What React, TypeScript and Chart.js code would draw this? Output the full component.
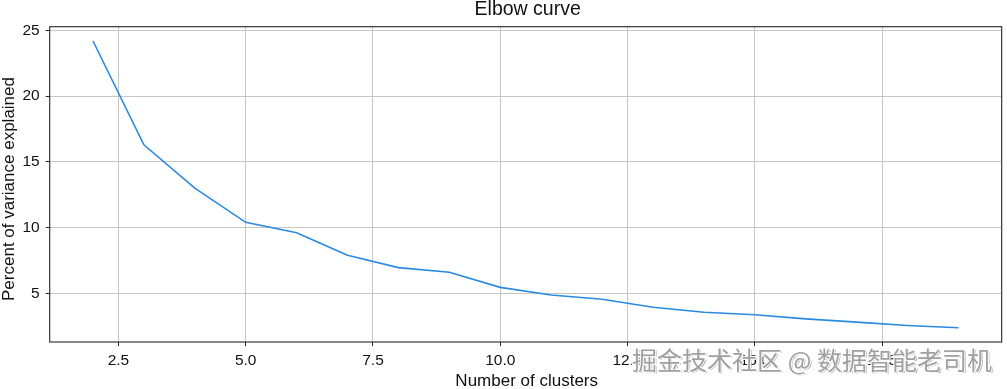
import React, { useEffect, useRef } from "react";
import { Chart, registerables } from "chart.js";

Chart.register(...registerables);

// ---- data ----
const clusters = [2, 3, 4, 5, 6, 7, 8, 9, 10, 11, 12, 13, 14, 15, 16, 17, 18, 19];
const variancePct = [24.2, 16.3, 13.0, 10.4, 9.6, 7.9, 6.95, 6.6, 5.45, 4.87, 4.55, 3.93, 3.55, 3.37, 3.05, 2.8, 2.55, 2.38];
const xTicks = [2.5, 5.0, 7.5, 10.0, 12.5, 15.0, 17.5];
const yTicks = [5, 10, 15, 20, 25];
const xLimits = [1.15, 19.85];
const yLimits = [1.29, 25.29];

const titleText = "Elbow curve";
const xLabelText = "Number of clusters";
const yLabelText = "Percent of variance explained";
const watermarkText = "掘金技术社区 @ 数据智能老司机";

const FONT = '"Liberation Sans", Arial, Helvetica, sans-serif';

const textPlugin = {
  id: "mplText",
  afterDraw(chart: any) {
    const ctx = chart.ctx as CanvasRenderingContext2D;
    const a = chart.chartArea;
    ctx.save();
    // spines
    ctx.strokeStyle = "#262626";
    ctx.lineWidth = 1.1;
    ctx.strokeRect(a.left, a.top, a.right - a.left, a.bottom - a.top);

    ctx.fillStyle = "#111";
    ctx.textAlign = "center";
    ctx.textBaseline = "middle";
    const cx = (a.left + a.right) / 2;
    ctx.font = `19.5px ${FONT}`;
    ctx.fillText(titleText, cx + 2, 9.5);
    ctx.font = `17px ${FONT}`;
    ctx.fillText(xLabelText, cx + 1, 381.5);
    ctx.save();
    ctx.translate(9.5, 189);
    ctx.rotate(-Math.PI / 2);
    ctx.fillText(yLabelText, 0, 0);
    ctx.restore();

    // watermark
    ctx.font = `25px "Noto Sans CJK SC", sans-serif`;
    ctx.textAlign = "center";
    ctx.textBaseline = "middle";
    const wx = 812, wy = 360;
    ctx.lineJoin = "round";
    ctx.fillStyle = "rgba(60,60,60,0.6)";
    ctx.fillText(watermarkText, wx + 1.5, wy + 1.5);
    ctx.strokeStyle = "rgba(255,255,255,0.95)";
    ctx.lineWidth = 2.5;
    ctx.strokeText(watermarkText, wx, wy);
    ctx.fillStyle = "#a0a0a0";
    ctx.fillText(watermarkText, wx, wy);
    ctx.restore();
  },
};

export default function App() {
  const ref = useRef<HTMLCanvasElement | null>(null);

  useEffect(() => {
    if (!ref.current) return;
    const chart = new Chart(ref.current, {
      type: "line",
      data: {
        datasets: [
          {
            label: "variance",
            data: clusters.map((c, i) => ({ x: c, y: variancePct[i] })),
            borderColor: "#2a8ae0",
            borderWidth: 1.6,
            pointRadius: 0,
            tension: 0,
            fill: false,
          },
        ],
      },
      options: {
        responsive: false,
        animation: false,
        events: [],
        layout: { padding: { top: 26.7, right: 5.3, left: 0, bottom: 0 } },
        plugins: {
          legend: { display: false },
          title: { display: false },
          tooltip: { enabled: false },
        },
        scales: {
          x: {
            type: "linear",
            min: xLimits[0],
            max: xLimits[1],
            afterBuildTicks: (s: any) => {
              s.ticks = xTicks.map((v) => ({ value: v }));
            },
            afterFit: (s: any) => {
              s.height = 47;
            },
            border: { display: false },
            grid: {
              color: "#c6c6c6",
              lineWidth: 1,
              tickColor: "#262626",
              tickLength: 4,
              drawTicks: true,
            },
            ticks: {
              padding: 5,
              color: "#111",
              font: { family: FONT, size: 15.5 },
              maxRotation: 0,
              autoSkip: false,
              callback: (v: any) => Number(v).toFixed(1),
            },
          },
          y: {
            type: "linear",
            min: yLimits[0],
            max: yLimits[1],
            afterBuildTicks: (s: any) => {
              s.ticks = yTicks.map((v) => ({ value: v }));
            },
            afterFit: (s: any) => {
              s.width = 49.7;
            },
            border: { display: false },
            grid: {
              color: "#c6c6c6",
              lineWidth: 1,
              tickColor: "#262626",
              tickLength: 4,
              drawTicks: true,
            },
            ticks: {
              padding: 6,
              color: "#111",
              font: { family: FONT, size: 15.5 },
              autoSkip: false,
              callback: (v: any) => String(v),
            },
          },
        },
      },
      plugins: [textPlugin],
    });
    return () => chart.destroy();
  }, []);

  return (
    <div style={{ position: "absolute", left: 0, top: 0, width: 1007, height: 389, background: "#fff" }}>
      <canvas ref={ref} width={1007} height={389} style={{ display: "block" }} />
    </div>
  );
}
